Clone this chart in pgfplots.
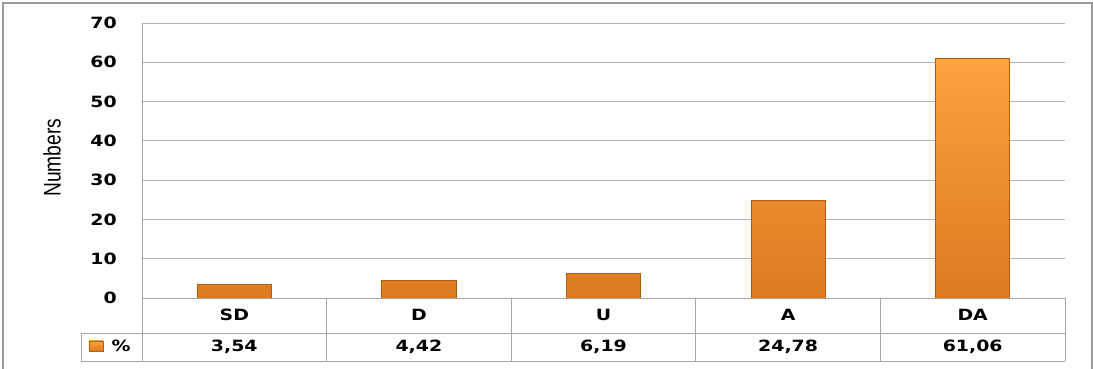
\documentclass[border=0pt]{standalone}
\usepackage{fontspec}
\setmainfont{DejaVu Sans}[FakeStretch=1.22]
\newfontfamily\narrowfont{Liberation Sans}[FakeStretch=0.8]
\usepackage{pgfplots}
\pgfplotsset{compat=1.18}
\definecolor{gridc}{HTML}{B3B3B3}
\definecolor{tabc}{HTML}{A6A6A6}
\definecolor{framec}{HTML}{9A9A9A}
\definecolor{barTop}{HTML}{FCA23E}
\definecolor{barBot}{HTML}{DD7A22}
\definecolor{barEdge}{HTML}{B2600F}
\begin{document}
\begin{tikzpicture}[x=1pt,y=1pt]
\useasboundingbox (-142,-71) rectangle (951,298);
\draw[framec, line width=1.5pt] (-139,-72) -- (-139,295) -- (950,295) -- (950,-72);
\begin{axis}[
  name=ax, at={(0,0)}, anchor=south west,
  scale only axis, width=923pt, height=275pt,
  xmin=-0.5, xmax=4.5, ymin=0, ymax=70,
  ytick={0,10,...,70},
  xtick={0,1,2,3,4},
  xticklabels={SD,D,U,A,DA},
  extra x ticks={0,1,2,3,4},
  extra x tick labels={{3,54},{4,42},{6,19},{24,78},{61,06}},
  extra x tick style={grid=none, xticklabel style={yshift=-32pt}},
  major tick length=0pt,
  ymajorgrids, grid style={gridc, line width=0.8pt},
  axis lines*=left, axis line style={tabc, line width=0.8pt},
  /pgf/number format/assume math mode=true,
  ticklabel style={font=\bfseries\fontsize{15.5}{18}\selectfont},
  yticklabel style={anchor=east, inner sep=0pt, xshift=-25pt},
  xticklabel style={anchor=center, inner sep=0pt, yshift=-17pt},
  ylabel={Numbers},
  ylabel style={font=\narrowfont\fontsize{24}{26}\selectfont, at={(axis description cs:-0.0975,0.51)}, anchor=center},
  clip=false,
]
\addplot[ybar, bar width=74pt, draw=barEdge, line width=0.8pt, top color=barTop, bottom color=barBot]
  coordinates {(0,3.54) (1,4.42) (2,6.19) (3,24.78) (4,61.06)};
\end{axis}
% data table grid
\draw[tabc, line width=0.8pt] (0,0) -- (923,0);
\draw[tabc, line width=0.8pt] (-61,-35) -- (923,-35);
\draw[tabc, line width=0.8pt] (-61,-63) -- (923,-63);
\draw[tabc, line width=0.8pt] (-61,-35) -- (-61,-63);
\draw[tabc, line width=0.8pt] (0,275) -- (0,-63);
\foreach \k in {1,2,3,4,5} {\draw[tabc, line width=0.8pt] (184.6*\k,0) -- (184.6*\k,-63);}
% legend key
\shade[top color=barTop, bottom color=barBot, draw=barEdge, line width=0.6pt] (-53,-43) rectangle (-39,-53);
\node[font=\bfseries\fontsize{15.5}{18}\selectfont, anchor=center] at (-21,-48) {\%};
\end{tikzpicture}
\end{document}
